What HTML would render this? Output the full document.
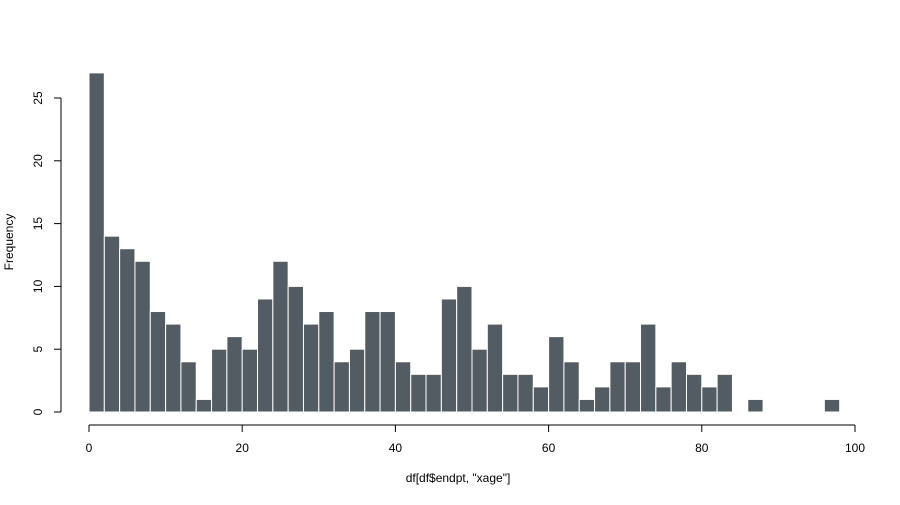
<!DOCTYPE html>
<html><head><meta charset="utf-8"><style>
body{margin:0;background:#fff;}
svg text{font-family:"Liberation Sans",sans-serif;font-size:12px;fill:#000;}
</style></head><body>
<svg width="900" height="500">
<g id="bars"></g>
<g id="xaxis"></g>
<g id="yaxis"></g>
<text x="458" y="482" text-anchor="middle">df[df$endpt, "xage"]</text>
<text transform="translate(13,242) rotate(-90)" text-anchor="middle">Frequency</text>
</svg>
<script>
const binStarts=[0,2,4,6,8,10,12,14,16,18,20,22,24,26,28,30,32,34,36,38,40,42,44,46,48,50,52,54,56,58,60,62,64,66,68,70,72,74,76,78,80,82,84,86,88,90,92,94,96];
const counts=[27,14,13,12,8,7,4,1,5,6,5,9,12,10,7,8,4,5,8,8,4,3,3,9,10,5,7,3,3,2,6,4,1,2,4,4,7,2,4,3,2,3,0,1,0,0,0,0,1];
const binWidth=2;
const xTicks=[0,20,40,60,80,100];
const yTicks=[0,5,10,15,20,25];
const NS="http://www.w3.org/2000/svg";
const xs=v=>89+v*7.66;
const ys=v=>412-v*12.56;
const bars=document.getElementById('bars');
binStarts.forEach((b,i)=>{
  if(!counts[i])return;
  const r=document.createElementNS(NS,'rect');
  r.setAttribute('x',xs(b));r.setAttribute('width',xs(b+binWidth)-xs(b));
  r.setAttribute('y',ys(counts[i]));r.setAttribute('height',ys(0)-ys(counts[i]));
  r.setAttribute('fill','#535c63');r.setAttribute('stroke','#fff');r.setAttribute('stroke-width','1');
  
  
  bars.appendChild(r);
});
const xa=document.getElementById('xaxis');
function ln(g,x1,y1,x2,y2){const l=document.createElementNS(NS,'line');l.setAttribute('x1',x1);l.setAttribute('y1',y1);l.setAttribute('x2',x2);l.setAttribute('y2',y2);l.setAttribute('stroke','#000');g.appendChild(l);}
function tx(g,x,y,s,tr){const t=document.createElementNS(NS,'text');t.setAttribute('x',x);t.setAttribute('y',y);t.setAttribute('text-anchor','middle');if(tr)t.setAttribute('transform',tr);t.textContent=s;


g.appendChild(t);}
ln(xa,xs(xTicks[0]),425,xs(xTicks[xTicks.length-1]),425);
xTicks.forEach(v=>{ln(xa,xs(v),425,xs(v),432);tx(xa,xs(v),452,v);});
const ya=document.getElementById('yaxis');
ln(ya,61,ys(yTicks[0]),61,ys(yTicks[yTicks.length-1]));
yTicks.forEach(v=>{ln(ya,54,ys(v),61,ys(v));tx(ya,42,ys(v),v,`rotate(-90,42,${ys(v)})`);});
</script>
</body></html>
